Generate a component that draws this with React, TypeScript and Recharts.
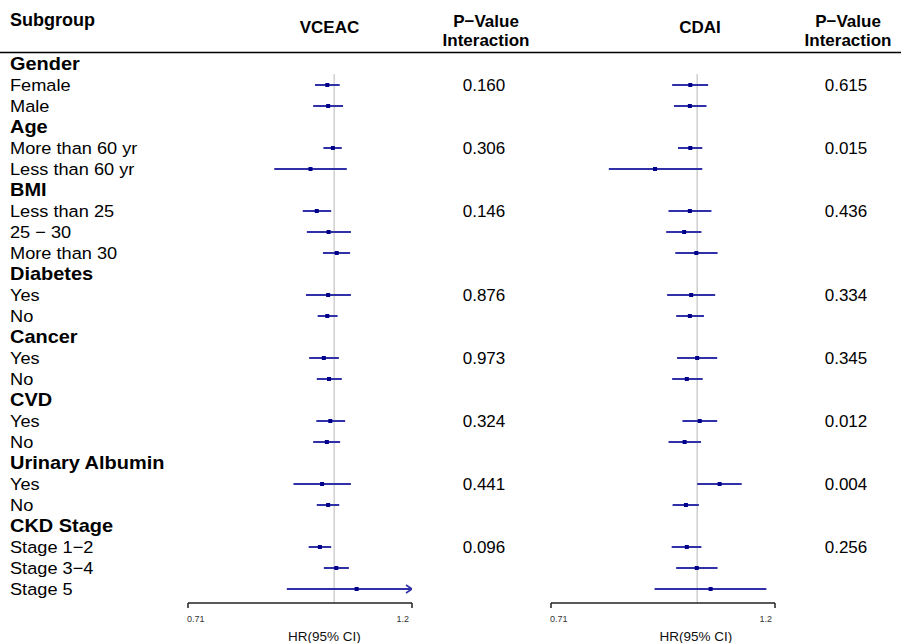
import { ScatterChart, Scatter, XAxis, YAxis, ErrorBar, ReferenceLine } from 'recharts';

const subgroups = [
  'Gender', 'Female', 'Male',
  'Age', 'More than 60 yr', 'Less than 60 yr',
  'BMI', 'Less than 25', '25 \u2212 30', 'More than 30',
  'Diabetes', 'Yes', 'No',
  'Cancer', 'Yes', 'No',
  'CVD', 'Yes', 'No',
  'Urinary Albumin', 'Yes', 'No',
  'CKD Stage', 'Stage 1\u22122', 'Stage 3\u22124', 'Stage 5',
];
const headerRows = [0, 3, 6, 10, 13, 16, 19, 22];

// HR, lower and upper CI per row (null = group header)
const vceacHR = [null, 0.984, 0.986, null, 0.997, 0.946, null, 0.960, 0.987, 1.006, null, 0.986, 0.984, null, 0.976, 0.988, null, 0.991, 0.983, null, 0.972, 0.986, null, 0.967, 1.005, 1.054];
const vceacLo = [null, 0.956, 0.952, null, 0.975, 0.869, null, 0.929, 0.938, 0.974, null, 0.936, 0.962, null, 0.943, 0.960, null, 0.959, 0.952, null, 0.909, 0.960, null, 0.942, 0.976, 0.895];
const vceacHi = [null, 1.013, 1.021, null, 1.018, 1.030, null, 0.993, 1.040, 1.038, null, 1.040, 1.008, null, 1.011, 1.018, null, 1.026, 1.014, null, 1.040, 1.012, null, 0.993, 1.035, 1.25];

const cdaiHR = [null, 0.984, 0.983, null, 0.984, 0.906, null, 0.983, 0.970, 0.998, null, 0.986, 0.983, null, 1.000, 0.976, null, 1.006, 0.971, null, 1.054, 0.974, null, 0.976, 0.999, 1.032];
const cdaiLo = [null, 0.943, 0.947, null, 0.956, 0.813, null, 0.935, 0.930, 0.950, null, 0.932, 0.952, null, 0.954, 0.943, null, 0.966, 0.935, null, 1.000, 0.944, null, 0.942, 0.952, 0.905];
const cdaiHi = [null, 1.026, 1.022, null, 1.012, 1.012, null, 1.034, 1.010, 1.049, null, 1.043, 1.016, null, 1.048, 1.013, null, 1.048, 1.009, null, 1.110, 1.004, null, 1.010, 1.049, 1.176];

const pRows = [1, 4, 7, 11, 14, 17, 20, 23];
const vceacP = ['0.160', '0.306', '0.146', '0.876', '0.973', '0.324', '0.441', '0.096'];
const cdaiP = ['0.615', '0.015', '0.436', '0.334', '0.345', '0.012', '0.004', '0.256'];

const xTicks = [0.71, 1.2];
const X_MIN = 0.71;
const X_MAX = 1.2;
const Y_DOMAIN = [-0.5, 25.667];
const rowTicks = subgroups.map((_, i) => i);

const FONT = '"Liberation Sans", Arial, Helvetica, sans-serif';
const LINE = '#3030a8';
const DOT = '#00008b';

function buildPoints(hr, lo, hi) {
  const out = [];
  hr.forEach((v, i) => {
    if (v == null) return;
    out.push({ row: i, hr: v, err: [v - lo[i], Math.min(hi[i], X_MAX) - v] });
  });
  return out;
}

function buildArrows(hr, hi) {
  const out = [];
  hr.forEach((v, i) => {
    if (v != null && hi[i] > X_MAX) out.push({ row: i, hr: X_MAX });
  });
  return out;
}

const Box = (props: any) => (
  <rect x={props.cx - 2} y={props.cy - 2} width={4} height={4} fill={DOT} />
);

const Arrow = (props: any) => (
  <path
    d={`M${props.cx - 6},${props.cy - 4} L${props.cx},${props.cy} L${props.cx - 6},${props.cy + 4}`}
    stroke={LINE}
    strokeWidth={1.6}
    fill="none"
  />
);

function LabelTick(props: any) {
  const i = props.payload.value;
  const bold = headerRows.includes(i);
  return (
    <text
      transform={`translate(10 ${props.y + 6}) scale(${bold ? 1.05 : 1.07} 1)`}
      fontSize={bold ? 19 : 17}
      fontWeight={bold ? 700 : 400}
      fill="#000"
      textAnchor="start"
    >
      {subgroups[i]}
    </text>
  );
}

function makePTick(vals: string[], cx: number) {
  return (props: any) => {
    const k = pRows.indexOf(props.payload.value);
    return (
      <text x={cx} y={props.y + 6} fontSize={17} fill="#000" textAnchor="middle">
        {k >= 0 ? vals[k] : ''}
      </text>
    );
  };
}

function HrTick(props: any) {
  const first = props.payload.value < 1;
  return (
    <text
      x={first ? props.x - 1 : props.x - 3}
      y={603 + 18.5}
      fontSize={9}
      fill="#333"
      textAnchor={first ? 'start' : 'end'}
    >
      {props.payload.value}
    </text>
  );
}

function ForestPanel({ width, left, labelDx, hr, lo, hi, pvals, pX, showLabels }) {
  const points = buildPoints(hr, lo, hi);
  const arrows = buildArrows(hr, hi);
  return (
    <div style={{ position: 'absolute', left: 0, top: 0 }}>
      <ScatterChart width={width} height={643} margin={{ top: 53.5, right: 0, bottom: 0, left: left }}>
        <XAxis
          type="number"
          dataKey="hr"
          scale="log"
          domain={[X_MIN, X_MAX]}
          allowDataOverflow
          ticks={xTicks}
          interval={0}
          height={40}
          axisLine={{ stroke: '#222', strokeWidth: 1.5 }}
          tickLine={{ stroke: '#222', strokeWidth: 1.5 }}
          tickSize={5}
          tick={<HrTick />}
          label={{ value: 'HR(95% CI)', position: 'insideBottom', offset: 2, dx: labelDx, fontSize: 13.5, fill: '#111' }}
        />
        <YAxis
          yAxisId="rows"
          type="number"
          dataKey="row"
          domain={Y_DOMAIN}
          reversed
          allowDataOverflow
          ticks={rowTicks}
          interval={0}
          width={showLabels ? 188 : 0}
          hide={!showLabels}
          axisLine={false}
          tickLine={false}
          tick={<LabelTick />}
        />
        <YAxis
          yAxisId="p"
          orientation="right"
          type="number"
          domain={Y_DOMAIN}
          reversed
          allowDataOverflow
          ticks={pRows}
          interval={0}
          width={width - left - (showLabels ? 188 : 0) - 224}
          axisLine={false}
          tickLine={false}
          tick={makePTick(pvals, pX)}
        />
        <ReferenceLine
          yAxisId="rows"
          segment={[{ x: 1, y: 0.48 }, { x: 1, y: Y_DOMAIN[1] }]}
          stroke="#cfcfcf"
          strokeWidth={1.5}
        />
        <Scatter yAxisId="rows" data={points} shape={<Box />} isAnimationActive={false}>
          <ErrorBar dataKey="err" direction="x" width={0} stroke={LINE} strokeWidth={2} isAnimationActive={false} />
        </Scatter>
        <Scatter yAxisId="rows" data={arrows} shape={<Arrow />} isAnimationActive={false} />
      </ScatterChart>
    </div>
  );
}

export default function App() {
  return (
    <div
      style={{
        position: 'absolute',
        left: 0,
        top: 0,
        width: 901,
        height: 643,
        background: '#fff',
        fontFamily: FONT,
      }}
    >
      <ForestPanel width={540} left={0} labelDx={24.5} hr={vceacHR} lo={vceacLo} hi={vceacHi} pvals={vceacP} pX={484} showLabels />
      <div style={{ position: 'absolute', left: 540, top: 0 }}>
        <ForestPanel width={361} left={11} labelDx={33} hr={cdaiHR} lo={cdaiLo} hi={cdaiHi} pvals={cdaiP} pX={306} showLabels={false} />
      </div>
      <svg width={901} height={643} style={{ position: 'absolute', left: 0, top: 0, pointerEvents: 'none' }}>
        <g fontWeight={700} fill="#000">
          <text x={10} y={26} fontSize={18}>Subgroup</text>
          <text x={329.5} y={33} fontSize={17} textAnchor="middle">VCEAC</text>
          <text x={486} y={26.5} fontSize={17} textAnchor="middle">P{'\u2212'}Value</text>
          <text x={486} y={45.5} fontSize={17} textAnchor="middle">Interaction</text>
          <text x={700} y={33} fontSize={17} textAnchor="middle">CDAI</text>
          <text x={848} y={26.5} fontSize={17} textAnchor="middle">P{'\u2212'}Value</text>
          <text x={848} y={45.5} fontSize={17} textAnchor="middle">Interaction</text>
        </g>
        <line x1={0} x2={901} y1={52.5} y2={52.5} stroke="#000" strokeWidth={1.6} />
      </svg>
    </div>
  );
}
